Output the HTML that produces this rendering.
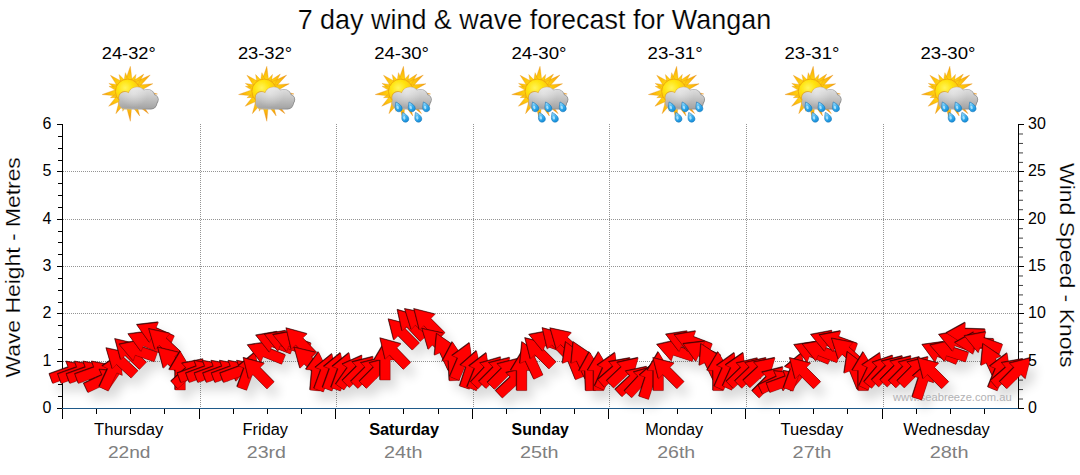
<!DOCTYPE html>
<html><head><meta charset="utf-8"><title>7 day wind &amp; wave forecast for Wangan</title>
<style>
html,body{margin:0;padding:0;background:#fff;}
body{width:1080px;height:475px;overflow:hidden;font-family:"Liberation Sans", sans-serif;}
svg{display:block;}
text{font-family:"Liberation Sans", sans-serif;}
.big{stroke:#fff;stroke-width:0.2px;}
</style></head><body>
<svg width="1080" height="475" viewBox="0 0 1080 475">
<defs>
<filter id="sh" x="-5%" y="-50%" width="110%" height="250%">
  <feGaussianBlur in="SourceAlpha" stdDeviation="5.5"/>
  <feOffset dx="6" dy="9" result="b"/>
  <feComponentTransfer><feFuncA type="linear" slope="0.15"/></feComponentTransfer>
</filter>
<path id="arwS" d="M19.3,0 L0.8,-11 L0.8,-5 L-19.3,-5 L-19.3,5 L0.8,5 L0.8,11 Z"/>
<path id="arwD" d="M19.3,0 L0.8,-11 L0.8,-5 L-19.3,-5 L-19.3,5 L0.8,5 L0.8,11 Z" fill="#300000" stroke="#300000" stroke-width="0.5"/>
<path id="arwR" d="M19.3,0 L0.8,-11 L0.8,-5 L-19.3,-5 L-19.3,5 L0.8,5 L0.8,11 Z" fill="#ff0000" stroke="#700000" stroke-width="0.35"/>

<radialGradient id="sung" cx="-2.5" cy="-3.5" r="17" gradientUnits="userSpaceOnUse"><stop offset="0" stop-color="#fff45a"/><stop offset="0.45" stop-color="#ffe30c"/><stop offset="0.78" stop-color="#fdc808"/><stop offset="1" stop-color="#f2a40c"/></radialGradient>
<radialGradient id="rayg" cx="0" cy="0" r="28" gradientUnits="userSpaceOnUse"><stop offset="0.4" stop-color="#ffd610"/><stop offset="0.7" stop-color="#fbb90e"/><stop offset="1" stop-color="#ef9216"/></radialGradient>
<linearGradient id="cldg" x1="0" y1="-4.5" x2="0" y2="17.5" gradientUnits="userSpaceOnUse"><stop offset="0" stop-color="#e4e4e4"/><stop offset="0.35" stop-color="#cfcfcf"/><stop offset="1" stop-color="#a2a2a2"/></linearGradient>
<radialGradient id="cldh" cx="6" cy="2" r="14" gradientUnits="userSpaceOnUse"><stop offset="0" stop-color="#ffffff" stop-opacity="0.35"/><stop offset="1" stop-color="#ffffff" stop-opacity="0"/></radialGradient>
<linearGradient id="rimg" x1="-8" y1="-4" x2="24" y2="18" gradientUnits="userSpaceOnUse"><stop offset="0" stop-color="#d99a1a"/><stop offset="0.32" stop-color="#e2b85a"/><stop offset="0.55" stop-color="#b4b4b4"/><stop offset="1" stop-color="#8a8a8a"/></linearGradient>
<linearGradient id="drpg" x1="-3" y1="-4" x2="3" y2="4" gradientUnits="userSpaceOnUse"><stop offset="0" stop-color="#a8e4ff"/><stop offset="0.5" stop-color="#38aeee"/><stop offset="1" stop-color="#1088d6"/></linearGradient>
<filter id="isoft" x="-10%" y="-10%" width="120%" height="120%"><feGaussianBlur stdDeviation="0.35"/></filter>
<g id="sun">
<path d="M4.72,-8.55 L2.63,-25.06 L-2.84,-9.35 Z M6.73,-6.73 L8.29,-16.99 L1.16,-9.45 Z M8.92,-3.99 L16.11,-17.28 L3.36,-9.17 Z M9.51,-2.22 L22.51,-16.36 L5.05,-8.36 Z M9.72,1.00 L25.10,-7.67 L7.50,-6.27 Z M8.63,4.57 L29.81,2.61 L9.30,-3.00 Z M6.85,6.61 L19.03,8.87 L9.47,0.99 Z M3.36,9.17 L20.77,22.27 L8.92,3.99 Z M0.53,9.75 L11.97,24.54 L7.36,6.42 Z M-3.00,9.30 L2.62,29.92 L4.57,8.63 Z M-5.19,7.98 L-4.95,19.87 L0.83,9.48 Z M-7.58,6.16 L-11.83,22.25 L-0.87,9.73 Z M-9.43,2.55 L-19.03,14.87 L-4.75,8.54 Z M-9.52,0.17 L-17.27,6.28 L-7.40,5.99 Z M-9.40,-2.67 L-25.64,3.15 L-8.47,4.87 Z M-7.89,-5.32 L-18.76,-5.03 L-9.50,0.66 Z M-7.07,-6.37 L-18.85,-8.00 L-9.50,-0.66 Z M-3.99,-8.92 L-17.28,-16.11 L-9.17,-3.36 Z M-1.32,-9.43 L-8.58,-16.84 L-6.85,-6.61 Z M1.98,-9.31 L-2.30,-18.76 L-4.17,-8.56 Z" fill="url(#rayg)" stroke="#e58f10" stroke-width="0.3" stroke-linejoin="round"/>
<circle cx="0" cy="0" r="12.3" fill="url(#sung)" stroke="#e89a10" stroke-width="0.7"/>
</g>
<clipPath id="cclip"><circle cx="-2.9" cy="6.2" r="5.7"/><circle cx="9.3" cy="4.6" r="8.8"/><circle cx="19.6" cy="5.6" r="7.3"/><circle cx="25.4" cy="8.2" r="4.8"/><rect x="-8.6" y="5.5" width="37.5" height="11.7" rx="5.6" ry="5.6"/></clipPath>
<g id="cloud">
<g fill="none" stroke="url(#rimg)" stroke-width="1.6"><circle cx="-2.9" cy="6.2" r="5.7"/><circle cx="9.3" cy="4.6" r="8.8"/><circle cx="19.6" cy="5.6" r="7.3"/><circle cx="25.4" cy="8.2" r="4.8"/><rect x="-8.6" y="5.5" width="37.5" height="11.7" rx="5.6" ry="5.6"/></g>
<rect x="-10" y="-6" width="42" height="25" fill="url(#cldg)" clip-path="url(#cclip)"/>
<rect x="-10" y="-6" width="42" height="25" fill="url(#cldh)" clip-path="url(#cclip)"/>
</g>
<g id="drop"><g transform="scale(1.12)"><path d="M-2.6,-4.3 C-0.6,-3.4 2.9,-1.2 3.0,1.4 C3.1,3.4 1.5,4.6 -0.3,4.4 C-2.3,4.2 -3.3,2.4 -3.2,0.4 C-3.1,-1.4 -2.8,-3.0 -2.6,-4.3 Z" fill="url(#drpg)" stroke="#0f6fb5" stroke-width="0.5"/><ellipse cx="-1.0" cy="0.6" rx="1.0" ry="1.6" fill="#c9efff" opacity="0.75" transform="rotate(-15 -1 0.6)"/></g></g>
<g id="pc" filter="url(#isoft)"><use href="#sun"/><use href="#cloud"/></g>
<g id="rain" filter="url(#isoft)"><use href="#sun"/><use href="#cloud"/><use href="#drop" x="-2" y="15.4"/><use href="#drop" x="11.1" y="15.4"/><use href="#drop" x="25.5" y="15.4"/><use href="#drop" x="4.6" y="25.8"/><use href="#drop" x="17.6" y="25.8"/></g>

</defs>
<rect x="0" y="0" width="1080" height="475" fill="#ffffff"/>
<text x="534.4" y="29.4" font-size="27.50" text-anchor="middle" fill="#000" textLength="473.5" lengthAdjust="spacingAndGlyphs" class="big">7 day wind &amp; wave forecast for Wangan</text>
<text x="128.8" y="58.7" font-size="16.00" text-anchor="middle" fill="#000" textLength="53.9" lengthAdjust="spacingAndGlyphs">24-32°</text>
<text x="265.0" y="58.7" font-size="16.00" text-anchor="middle" fill="#000" textLength="54.2" lengthAdjust="spacingAndGlyphs">23-32°</text>
<text x="401.6" y="58.7" font-size="16.00" text-anchor="middle" fill="#000" textLength="54.9" lengthAdjust="spacingAndGlyphs">24-30°</text>
<text x="539.0" y="58.7" font-size="16.00" text-anchor="middle" fill="#000" textLength="55.2" lengthAdjust="spacingAndGlyphs">24-30°</text>
<text x="675.1" y="58.7" font-size="16.00" text-anchor="middle" fill="#000" textLength="55.2" lengthAdjust="spacingAndGlyphs">23-31°</text>
<text x="812.0" y="58.7" font-size="16.00" text-anchor="middle" fill="#000" textLength="55.0" lengthAdjust="spacingAndGlyphs">23-31°</text>
<text x="948.0" y="58.7" font-size="16.00" text-anchor="middle" fill="#000" textLength="55.0" lengthAdjust="spacingAndGlyphs">23-30°</text>
<use href="#pc" x="127.7" y="91.4"/>
<use href="#pc" x="264.2" y="91.4"/>
<use href="#rain" x="400.8" y="91.4"/>
<use href="#rain" x="537.4" y="91.4"/>
<use href="#rain" x="674.0" y="91.4"/>
<use href="#rain" x="810.6" y="91.4"/>
<use href="#rain" x="947.2" y="91.4"/>
<g stroke="#949494" stroke-width="1" stroke-dasharray="1,1" shape-rendering="crispEdges" fill="none">
<line x1="63.0" y1="361.5" x2="1018.0" y2="361.5"/>
<line x1="63.0" y1="313.5" x2="1018.0" y2="313.5"/>
<line x1="63.0" y1="266.5" x2="1018.0" y2="266.5"/>
<line x1="63.0" y1="219.5" x2="1018.0" y2="219.5"/>
<line x1="63.0" y1="171.5" x2="1018.0" y2="171.5"/>
<line x1="200.5" y1="124.0" x2="200.5" y2="408.0"/>
<line x1="336.5" y1="124.0" x2="336.5" y2="408.0"/>
<line x1="473.5" y1="124.0" x2="473.5" y2="408.0"/>
<line x1="609.5" y1="124.0" x2="609.5" y2="408.0"/>
<line x1="746.5" y1="124.0" x2="746.5" y2="408.0"/>
<line x1="883.5" y1="124.0" x2="883.5" y2="408.0"/>
</g>
<g filter="url(#sh)" fill="#000">
<use href="#arwS" transform="translate(69.3 372.2) rotate(-20.0)"/>
<use href="#arwS" transform="translate(77.8 372.2) rotate(-20.0)"/>
<use href="#arwS" transform="translate(86.4 372.2) rotate(-20.0)"/>
<use href="#arwS" transform="translate(94.9 372.2) rotate(-20.0)"/>
<use href="#arwS" transform="translate(103.5 379.9) rotate(-25.0)"/>
<use href="#arwS" transform="translate(112.0 371.5) rotate(-65.0)"/>
<use href="#arwS" transform="translate(120.5 361.3) rotate(-137.0)"/>
<use href="#arwS" transform="translate(129.1 352.5) rotate(-136.0)"/>
<use href="#arwS" transform="translate(137.6 350.8) rotate(-161.0)"/>
<use href="#arwS" transform="translate(146.1 341.8) rotate(-157.0)"/>
<use href="#arwS" transform="translate(154.7 332.8) rotate(-156.0)"/>
<use href="#arwS" transform="translate(163.2 342.2) rotate(-137.0)"/>
<use href="#arwS" transform="translate(171.8 361.0) rotate(-135.6)"/>
<use href="#arwS" transform="translate(180.3 370.7) rotate(-90.0)"/>
<use href="#arwS" transform="translate(188.8 372.1) rotate(-42.0)"/>
<use href="#arwS" transform="translate(197.4 371.3) rotate(-20.0)"/>
<use href="#arwS" transform="translate(205.9 371.3) rotate(-20.0)"/>
<use href="#arwS" transform="translate(214.4 371.3) rotate(-20.0)"/>
<use href="#arwS" transform="translate(223.0 371.3) rotate(-20.0)"/>
<use href="#arwS" transform="translate(231.5 371.3) rotate(-20.0)"/>
<use href="#arwS" transform="translate(240.1 371.3) rotate(-20.0)"/>
<use href="#arwS" transform="translate(248.6 370.5) rotate(-70.0)"/>
<use href="#arwS" transform="translate(257.1 371.7) rotate(-134.5)"/>
<use href="#arwS" transform="translate(265.7 352.4) rotate(-158.0)"/>
<use href="#arwS" transform="translate(274.2 342.3) rotate(-159.0)"/>
<use href="#arwS" transform="translate(282.7 341.3) rotate(-159.0)"/>
<use href="#arwS" transform="translate(291.3 341.5) rotate(-160.0)"/>
<use href="#arwS" transform="translate(299.8 342.1) rotate(-134.0)"/>
<use href="#arwS" transform="translate(308.3 360.9) rotate(-136.0)"/>
<use href="#arwS" transform="translate(316.9 371.3) rotate(-85.0)"/>
<use href="#arwS" transform="translate(325.4 372.1) rotate(-70.0)"/>
<use href="#arwS" transform="translate(334.0 371.2) rotate(-70.0)"/>
<use href="#arwS" transform="translate(342.5 371.2) rotate(-70.0)"/>
<use href="#arwS" transform="translate(351.0 371.3) rotate(-55.0)"/>
<use href="#arwS" transform="translate(359.6 370.5) rotate(-45.0)"/>
<use href="#arwS" transform="translate(368.1 371.3) rotate(-45.0)"/>
<use href="#arwS" transform="translate(376.6 371.3) rotate(-45.0)"/>
<use href="#arwS" transform="translate(385.2 360.8) rotate(-90.0)"/>
<use href="#arwS" transform="translate(393.7 352.1) rotate(-134.0)"/>
<use href="#arwS" transform="translate(402.3 332.9) rotate(-135.0)"/>
<use href="#arwS" transform="translate(410.8 324.0) rotate(-133.0)"/>
<use href="#arwS" transform="translate(419.3 322.0) rotate(-138.0)"/>
<use href="#arwS" transform="translate(427.9 322.7) rotate(-135.0)"/>
<use href="#arwS" transform="translate(436.4 341.9) rotate(-137.0)"/>
<use href="#arwS" transform="translate(444.9 351.3) rotate(-115.0)"/>
<use href="#arwS" transform="translate(453.5 361.3) rotate(-93.0)"/>
<use href="#arwS" transform="translate(462.0 360.8) rotate(-67.0)"/>
<use href="#arwS" transform="translate(470.6 369.3) rotate(-72.0)"/>
<use href="#arwS" transform="translate(479.1 371.0) rotate(-68.0)"/>
<use href="#arwS" transform="translate(487.6 371.3) rotate(-47.0)"/>
<use href="#arwS" transform="translate(496.2 371.3) rotate(-45.0)"/>
<use href="#arwS" transform="translate(504.7 372.3) rotate(-45.0)"/>
<use href="#arwS" transform="translate(513.2 381.3) rotate(-43.0)"/>
<use href="#arwS" transform="translate(521.8 371.3) rotate(-90.0)"/>
<use href="#arwS" transform="translate(530.3 359.6) rotate(-115.0)"/>
<use href="#arwS" transform="translate(538.9 351.8) rotate(-135.0)"/>
<use href="#arwS" transform="translate(547.4 341.3) rotate(-160.0)"/>
<use href="#arwS" transform="translate(555.9 342.0) rotate(-134.0)"/>
<use href="#arwS" transform="translate(564.5 341.4) rotate(-137.0)"/>
<use href="#arwS" transform="translate(573.0 360.0) rotate(-112.0)"/>
<use href="#arwS" transform="translate(581.5 359.5) rotate(-115.0)"/>
<use href="#arwS" transform="translate(590.1 371.3) rotate(-92.0)"/>
<use href="#arwS" transform="translate(598.6 371.3) rotate(-90.0)"/>
<use href="#arwS" transform="translate(607.2 370.5) rotate(-66.0)"/>
<use href="#arwS" transform="translate(615.7 370.8) rotate(-41.0)"/>
<use href="#arwS" transform="translate(624.2 371.2) rotate(-43.5)"/>
<use href="#arwS" transform="translate(632.8 379.9) rotate(-43.0)"/>
<use href="#arwS" transform="translate(641.3 380.3) rotate(-47.0)"/>
<use href="#arwS" transform="translate(649.8 379.5) rotate(-72.0)"/>
<use href="#arwS" transform="translate(658.4 371.3) rotate(-90.0)"/>
<use href="#arwS" transform="translate(666.9 371.6) rotate(-135.0)"/>
<use href="#arwS" transform="translate(675.5 350.7) rotate(-162.0)"/>
<use href="#arwS" transform="translate(684.0 341.8) rotate(-158.0)"/>
<use href="#arwS" transform="translate(692.5 341.8) rotate(-159.0)"/>
<use href="#arwS" transform="translate(701.1 351.8) rotate(-156.0)"/>
<use href="#arwS" transform="translate(709.6 361.3) rotate(-116.0)"/>
<use href="#arwS" transform="translate(718.1 371.3) rotate(-90.0)"/>
<use href="#arwS" transform="translate(726.7 370.6) rotate(-66.5)"/>
<use href="#arwS" transform="translate(735.2 370.5) rotate(-65.5)"/>
<use href="#arwS" transform="translate(743.8 371.6) rotate(-44.0)"/>
<use href="#arwS" transform="translate(752.3 371.3) rotate(-44.0)"/>
<use href="#arwS" transform="translate(760.8 371.0) rotate(-42.6)"/>
<use href="#arwS" transform="translate(769.4 380.8) rotate(-45.0)"/>
<use href="#arwS" transform="translate(777.9 381.3) rotate(-25.0)"/>
<use href="#arwS" transform="translate(786.4 381.3) rotate(-20.0)"/>
<use href="#arwS" transform="translate(795.0 371.3) rotate(-70.0)"/>
<use href="#arwS" transform="translate(803.5 371.6) rotate(-135.0)"/>
<use href="#arwS" transform="translate(812.1 352.3) rotate(-157.5)"/>
<use href="#arwS" transform="translate(820.6 351.1) rotate(-159.0)"/>
<use href="#arwS" transform="translate(829.1 341.3) rotate(-160.0)"/>
<use href="#arwS" transform="translate(837.7 341.8) rotate(-160.0)"/>
<use href="#arwS" transform="translate(846.2 351.3) rotate(-138.0)"/>
<use href="#arwS" transform="translate(854.7 369.8) rotate(-112.0)"/>
<use href="#arwS" transform="translate(863.3 371.3) rotate(-90.0)"/>
<use href="#arwS" transform="translate(871.8 370.4) rotate(-65.0)"/>
<use href="#arwS" transform="translate(880.4 370.3) rotate(-50.0)"/>
<use href="#arwS" transform="translate(888.9 369.8) rotate(-45.0)"/>
<use href="#arwS" transform="translate(897.4 369.8) rotate(-45.0)"/>
<use href="#arwS" transform="translate(906.0 370.7) rotate(-45.0)"/>
<use href="#arwS" transform="translate(914.5 370.7) rotate(-45.0)"/>
<use href="#arwS" transform="translate(923.0 380.1) rotate(-72.0)"/>
<use href="#arwS" transform="translate(931.6 371.6) rotate(-135.0)"/>
<use href="#arwS" transform="translate(940.1 352.3) rotate(-157.0)"/>
<use href="#arwS" transform="translate(948.7 351.3) rotate(-162.0)"/>
<use href="#arwS" transform="translate(957.2 341.3) rotate(-160.0)"/>
<use href="#arwS" transform="translate(965.7 333.7) rotate(-178.0)"/>
<use href="#arwS" transform="translate(974.3 343.3) rotate(-178.0)"/>
<use href="#arwS" transform="translate(982.8 342.7) rotate(-160.0)"/>
<use href="#arwS" transform="translate(991.3 361.5) rotate(-115.0)"/>
<use href="#arwS" transform="translate(999.9 371.1) rotate(-68.0)"/>
<use href="#arwS" transform="translate(1008.4 371.7) rotate(-41.0)"/>
<use href="#arwS" transform="translate(1017.0 371.6) rotate(-45.0)"/>
</g>
<text x="893.0" y="401.0" font-size="11.0" fill="#b2b2b4" stroke="none" textLength="118.6" lengthAdjust="spacingAndGlyphs">www.seabreeze.com.au</text>
<g stroke="#000" stroke-width="1" shape-rendering="crispEdges" fill="none">
<line x1="62.5" y1="124.0" x2="62.5" y2="409.0"/>
<line x1="57.0" y1="408.5" x2="62.5" y2="408.5"/>
<line x1="58.0" y1="396.5" x2="62.5" y2="396.5"/>
<line x1="58.0" y1="384.5" x2="62.5" y2="384.5"/>
<line x1="58.0" y1="373.5" x2="62.5" y2="373.5"/>
<line x1="57.0" y1="361.5" x2="62.5" y2="361.5"/>
<line x1="58.0" y1="349.5" x2="62.5" y2="349.5"/>
<line x1="58.0" y1="337.5" x2="62.5" y2="337.5"/>
<line x1="58.0" y1="325.5" x2="62.5" y2="325.5"/>
<line x1="57.0" y1="313.5" x2="62.5" y2="313.5"/>
<line x1="58.0" y1="302.5" x2="62.5" y2="302.5"/>
<line x1="58.0" y1="290.5" x2="62.5" y2="290.5"/>
<line x1="58.0" y1="278.5" x2="62.5" y2="278.5"/>
<line x1="57.0" y1="266.5" x2="62.5" y2="266.5"/>
<line x1="58.0" y1="254.5" x2="62.5" y2="254.5"/>
<line x1="58.0" y1="242.5" x2="62.5" y2="242.5"/>
<line x1="58.0" y1="231.5" x2="62.5" y2="231.5"/>
<line x1="57.0" y1="219.5" x2="62.5" y2="219.5"/>
<line x1="58.0" y1="207.5" x2="62.5" y2="207.5"/>
<line x1="58.0" y1="195.5" x2="62.5" y2="195.5"/>
<line x1="58.0" y1="183.5" x2="62.5" y2="183.5"/>
<line x1="57.0" y1="171.5" x2="62.5" y2="171.5"/>
<line x1="58.0" y1="160.5" x2="62.5" y2="160.5"/>
<line x1="58.0" y1="148.5" x2="62.5" y2="148.5"/>
<line x1="58.0" y1="136.5" x2="62.5" y2="136.5"/>
<line x1="57.0" y1="124.5" x2="62.5" y2="124.5"/>
<line x1="1018.5" y1="124.0" x2="1018.5" y2="409.0"/>
<line x1="1018.5" y1="408.5" x2="1024.0" y2="408.5"/>
<line x1="1018.5" y1="361.5" x2="1024.0" y2="361.5"/>
<line x1="1018.5" y1="313.5" x2="1024.0" y2="313.5"/>
<line x1="1018.5" y1="266.5" x2="1024.0" y2="266.5"/>
<line x1="1018.5" y1="219.5" x2="1024.0" y2="219.5"/>
<line x1="1018.5" y1="171.5" x2="1024.0" y2="171.5"/>
<line x1="1018.5" y1="124.5" x2="1024.0" y2="124.5"/>
</g>
<g stroke="#000" stroke-width="1" fill="none" stroke-opacity="0.75">
<line x1="1019.0" y1="399.03" x2="1023.0" y2="399.03"/>
<line x1="1019.0" y1="389.57" x2="1023.0" y2="389.57"/>
<line x1="1019.0" y1="380.10" x2="1023.0" y2="380.10"/>
<line x1="1019.0" y1="370.64" x2="1023.0" y2="370.64"/>
<line x1="1019.0" y1="351.70" x2="1023.0" y2="351.70"/>
<line x1="1019.0" y1="342.24" x2="1023.0" y2="342.24"/>
<line x1="1019.0" y1="332.77" x2="1023.0" y2="332.77"/>
<line x1="1019.0" y1="323.31" x2="1023.0" y2="323.31"/>
<line x1="1019.0" y1="304.37" x2="1023.0" y2="304.37"/>
<line x1="1019.0" y1="294.91" x2="1023.0" y2="294.91"/>
<line x1="1019.0" y1="285.44" x2="1023.0" y2="285.44"/>
<line x1="1019.0" y1="275.98" x2="1023.0" y2="275.98"/>
<line x1="1019.0" y1="257.04" x2="1023.0" y2="257.04"/>
<line x1="1019.0" y1="247.58" x2="1023.0" y2="247.58"/>
<line x1="1019.0" y1="238.11" x2="1023.0" y2="238.11"/>
<line x1="1019.0" y1="228.65" x2="1023.0" y2="228.65"/>
<line x1="1019.0" y1="209.71" x2="1023.0" y2="209.71"/>
<line x1="1019.0" y1="200.25" x2="1023.0" y2="200.25"/>
<line x1="1019.0" y1="190.78" x2="1023.0" y2="190.78"/>
<line x1="1019.0" y1="181.32" x2="1023.0" y2="181.32"/>
<line x1="1019.0" y1="162.38" x2="1023.0" y2="162.38"/>
<line x1="1019.0" y1="152.92" x2="1023.0" y2="152.92"/>
<line x1="1019.0" y1="143.45" x2="1023.0" y2="143.45"/>
<line x1="1019.0" y1="133.99" x2="1023.0" y2="133.99"/>
</g>
<g stroke-width="1" shape-rendering="crispEdges" fill="none">
<line x1="62.0" y1="408.5" x2="1018.0" y2="408.5" stroke="#1f5a8a"/>
<line x1="62.5" y1="409.0" x2="62.5" y2="418.5" stroke="#000"/>
<line x1="96.5" y1="409.0" x2="96.5" y2="413.5" stroke="#000"/>
<line x1="130.5" y1="409.0" x2="130.5" y2="413.5" stroke="#000"/>
<line x1="164.5" y1="409.0" x2="164.5" y2="413.5" stroke="#000"/>
<line x1="199.5" y1="409.0" x2="199.5" y2="418.5" stroke="#000"/>
<line x1="233.5" y1="409.0" x2="233.5" y2="413.5" stroke="#000"/>
<line x1="267.5" y1="409.0" x2="267.5" y2="413.5" stroke="#000"/>
<line x1="301.5" y1="409.0" x2="301.5" y2="413.5" stroke="#000"/>
<line x1="335.5" y1="409.0" x2="335.5" y2="418.5" stroke="#000"/>
<line x1="369.5" y1="409.0" x2="369.5" y2="413.5" stroke="#000"/>
<line x1="403.5" y1="409.0" x2="403.5" y2="413.5" stroke="#000"/>
<line x1="438.5" y1="409.0" x2="438.5" y2="413.5" stroke="#000"/>
<line x1="472.5" y1="409.0" x2="472.5" y2="418.5" stroke="#000"/>
<line x1="506.5" y1="409.0" x2="506.5" y2="413.5" stroke="#000"/>
<line x1="540.5" y1="409.0" x2="540.5" y2="413.5" stroke="#000"/>
<line x1="574.5" y1="409.0" x2="574.5" y2="413.5" stroke="#000"/>
<line x1="608.5" y1="409.0" x2="608.5" y2="418.5" stroke="#000"/>
<line x1="643.5" y1="409.0" x2="643.5" y2="413.5" stroke="#000"/>
<line x1="677.5" y1="409.0" x2="677.5" y2="413.5" stroke="#000"/>
<line x1="711.5" y1="409.0" x2="711.5" y2="413.5" stroke="#000"/>
<line x1="745.5" y1="409.0" x2="745.5" y2="418.5" stroke="#000"/>
<line x1="779.5" y1="409.0" x2="779.5" y2="413.5" stroke="#000"/>
<line x1="813.5" y1="409.0" x2="813.5" y2="413.5" stroke="#000"/>
<line x1="847.5" y1="409.0" x2="847.5" y2="413.5" stroke="#000"/>
<line x1="882.5" y1="409.0" x2="882.5" y2="418.5" stroke="#000"/>
<line x1="916.5" y1="409.0" x2="916.5" y2="413.5" stroke="#000"/>
<line x1="950.5" y1="409.0" x2="950.5" y2="413.5" stroke="#000"/>
<line x1="984.5" y1="409.0" x2="984.5" y2="413.5" stroke="#000"/>
</g>
<g>
<use href="#arwD" transform="translate(68.8 371.6) rotate(-20.0)"/><use href="#arwR" transform="translate(69.3 372.2) rotate(-20.0)"/>
<use href="#arwD" transform="translate(77.3 371.6) rotate(-20.0)"/><use href="#arwR" transform="translate(77.8 372.2) rotate(-20.0)"/>
<use href="#arwD" transform="translate(85.8 371.6) rotate(-20.0)"/><use href="#arwR" transform="translate(86.4 372.2) rotate(-20.0)"/>
<use href="#arwD" transform="translate(94.4 371.6) rotate(-20.0)"/><use href="#arwR" transform="translate(94.9 372.2) rotate(-20.0)"/>
<use href="#arwD" transform="translate(102.9 379.4) rotate(-25.0)"/><use href="#arwR" transform="translate(103.5 379.9) rotate(-25.0)"/>
<use href="#arwD" transform="translate(111.4 370.9) rotate(-65.0)"/><use href="#arwR" transform="translate(112.0 371.5) rotate(-65.0)"/>
<use href="#arwD" transform="translate(120.0 360.8) rotate(-137.0)"/><use href="#arwR" transform="translate(120.5 361.3) rotate(-137.0)"/>
<use href="#arwD" transform="translate(128.5 351.9) rotate(-136.0)"/><use href="#arwR" transform="translate(129.1 352.5) rotate(-136.0)"/>
<use href="#arwD" transform="translate(137.1 350.2) rotate(-161.0)"/><use href="#arwR" transform="translate(137.6 350.8) rotate(-161.0)"/>
<use href="#arwD" transform="translate(145.6 341.2) rotate(-157.0)"/><use href="#arwR" transform="translate(146.1 341.8) rotate(-157.0)"/>
<use href="#arwD" transform="translate(154.1 332.2) rotate(-156.0)"/><use href="#arwR" transform="translate(154.7 332.8) rotate(-156.0)"/>
<use href="#arwD" transform="translate(162.7 341.6) rotate(-137.0)"/><use href="#arwR" transform="translate(163.2 342.2) rotate(-137.0)"/>
<use href="#arwD" transform="translate(171.2 360.4) rotate(-135.6)"/><use href="#arwR" transform="translate(171.8 361.0) rotate(-135.6)"/>
<use href="#arwD" transform="translate(179.7 370.1) rotate(-90.0)"/><use href="#arwR" transform="translate(180.3 370.7) rotate(-90.0)"/>
<use href="#arwD" transform="translate(188.3 371.6) rotate(-42.0)"/><use href="#arwR" transform="translate(188.8 372.1) rotate(-42.0)"/>
<use href="#arwD" transform="translate(196.8 370.8) rotate(-20.0)"/><use href="#arwR" transform="translate(197.4 371.3) rotate(-20.0)"/>
<use href="#arwD" transform="translate(205.3 370.8) rotate(-20.0)"/><use href="#arwR" transform="translate(205.9 371.3) rotate(-20.0)"/>
<use href="#arwD" transform="translate(213.9 370.8) rotate(-20.0)"/><use href="#arwR" transform="translate(214.4 371.3) rotate(-20.0)"/>
<use href="#arwD" transform="translate(222.4 370.8) rotate(-20.0)"/><use href="#arwR" transform="translate(223.0 371.3) rotate(-20.0)"/>
<use href="#arwD" transform="translate(231.0 370.8) rotate(-20.0)"/><use href="#arwR" transform="translate(231.5 371.3) rotate(-20.0)"/>
<use href="#arwD" transform="translate(239.5 370.8) rotate(-20.0)"/><use href="#arwR" transform="translate(240.1 371.3) rotate(-20.0)"/>
<use href="#arwD" transform="translate(248.0 369.9) rotate(-70.0)"/><use href="#arwR" transform="translate(248.6 370.5) rotate(-70.0)"/>
<use href="#arwD" transform="translate(256.6 371.1) rotate(-134.5)"/><use href="#arwR" transform="translate(257.1 371.7) rotate(-134.5)"/>
<use href="#arwD" transform="translate(265.1 351.9) rotate(-158.0)"/><use href="#arwR" transform="translate(265.7 352.4) rotate(-158.0)"/>
<use href="#arwD" transform="translate(273.6 341.8) rotate(-159.0)"/><use href="#arwR" transform="translate(274.2 342.3) rotate(-159.0)"/>
<use href="#arwD" transform="translate(282.2 340.8) rotate(-159.0)"/><use href="#arwR" transform="translate(282.7 341.3) rotate(-159.0)"/>
<use href="#arwD" transform="translate(290.7 340.9) rotate(-160.0)"/><use href="#arwR" transform="translate(291.3 341.5) rotate(-160.0)"/>
<use href="#arwD" transform="translate(299.3 341.6) rotate(-134.0)"/><use href="#arwR" transform="translate(299.8 342.1) rotate(-134.0)"/>
<use href="#arwD" transform="translate(307.8 360.4) rotate(-136.0)"/><use href="#arwR" transform="translate(308.3 360.9) rotate(-136.0)"/>
<use href="#arwD" transform="translate(316.3 370.8) rotate(-85.0)"/><use href="#arwR" transform="translate(316.9 371.3) rotate(-85.0)"/>
<use href="#arwD" transform="translate(324.9 371.6) rotate(-70.0)"/><use href="#arwR" transform="translate(325.4 372.1) rotate(-70.0)"/>
<use href="#arwD" transform="translate(333.4 370.6) rotate(-70.0)"/><use href="#arwR" transform="translate(334.0 371.2) rotate(-70.0)"/>
<use href="#arwD" transform="translate(341.9 370.6) rotate(-70.0)"/><use href="#arwR" transform="translate(342.5 371.2) rotate(-70.0)"/>
<use href="#arwD" transform="translate(350.5 370.8) rotate(-55.0)"/><use href="#arwR" transform="translate(351.0 371.3) rotate(-55.0)"/>
<use href="#arwD" transform="translate(359.0 369.9) rotate(-45.0)"/><use href="#arwR" transform="translate(359.6 370.5) rotate(-45.0)"/>
<use href="#arwD" transform="translate(367.6 370.8) rotate(-45.0)"/><use href="#arwR" transform="translate(368.1 371.3) rotate(-45.0)"/>
<use href="#arwD" transform="translate(376.1 370.8) rotate(-45.0)"/><use href="#arwR" transform="translate(376.6 371.3) rotate(-45.0)"/>
<use href="#arwD" transform="translate(384.6 360.2) rotate(-90.0)"/><use href="#arwR" transform="translate(385.2 360.8) rotate(-90.0)"/>
<use href="#arwD" transform="translate(393.2 351.6) rotate(-134.0)"/><use href="#arwR" transform="translate(393.7 352.1) rotate(-134.0)"/>
<use href="#arwD" transform="translate(401.7 332.4) rotate(-135.0)"/><use href="#arwR" transform="translate(402.3 332.9) rotate(-135.0)"/>
<use href="#arwD" transform="translate(410.2 323.4) rotate(-133.0)"/><use href="#arwR" transform="translate(410.8 324.0) rotate(-133.0)"/>
<use href="#arwD" transform="translate(418.8 321.4) rotate(-138.0)"/><use href="#arwR" transform="translate(419.3 322.0) rotate(-138.0)"/>
<use href="#arwD" transform="translate(427.3 322.1) rotate(-135.0)"/><use href="#arwR" transform="translate(427.9 322.7) rotate(-135.0)"/>
<use href="#arwD" transform="translate(435.9 341.4) rotate(-137.0)"/><use href="#arwR" transform="translate(436.4 341.9) rotate(-137.0)"/>
<use href="#arwD" transform="translate(444.4 350.8) rotate(-115.0)"/><use href="#arwR" transform="translate(444.9 351.3) rotate(-115.0)"/>
<use href="#arwD" transform="translate(452.9 360.8) rotate(-93.0)"/><use href="#arwR" transform="translate(453.5 361.3) rotate(-93.0)"/>
<use href="#arwD" transform="translate(461.5 360.2) rotate(-67.0)"/><use href="#arwR" transform="translate(462.0 360.8) rotate(-67.0)"/>
<use href="#arwD" transform="translate(470.0 368.8) rotate(-72.0)"/><use href="#arwR" transform="translate(470.6 369.3) rotate(-72.0)"/>
<use href="#arwD" transform="translate(478.5 370.4) rotate(-68.0)"/><use href="#arwR" transform="translate(479.1 371.0) rotate(-68.0)"/>
<use href="#arwD" transform="translate(487.1 370.8) rotate(-47.0)"/><use href="#arwR" transform="translate(487.6 371.3) rotate(-47.0)"/>
<use href="#arwD" transform="translate(495.6 370.8) rotate(-45.0)"/><use href="#arwR" transform="translate(496.2 371.3) rotate(-45.0)"/>
<use href="#arwD" transform="translate(504.2 371.8) rotate(-45.0)"/><use href="#arwR" transform="translate(504.7 372.3) rotate(-45.0)"/>
<use href="#arwD" transform="translate(512.7 380.8) rotate(-43.0)"/><use href="#arwR" transform="translate(513.2 381.3) rotate(-43.0)"/>
<use href="#arwD" transform="translate(521.2 370.8) rotate(-90.0)"/><use href="#arwR" transform="translate(521.8 371.3) rotate(-90.0)"/>
<use href="#arwD" transform="translate(529.8 359.1) rotate(-115.0)"/><use href="#arwR" transform="translate(530.3 359.6) rotate(-115.0)"/>
<use href="#arwD" transform="translate(538.3 351.2) rotate(-135.0)"/><use href="#arwR" transform="translate(538.9 351.8) rotate(-135.0)"/>
<use href="#arwD" transform="translate(546.8 340.8) rotate(-160.0)"/><use href="#arwR" transform="translate(547.4 341.3) rotate(-160.0)"/>
<use href="#arwD" transform="translate(555.4 341.4) rotate(-134.0)"/><use href="#arwR" transform="translate(555.9 342.0) rotate(-134.0)"/>
<use href="#arwD" transform="translate(563.9 340.9) rotate(-137.0)"/><use href="#arwR" transform="translate(564.5 341.4) rotate(-137.0)"/>
<use href="#arwD" transform="translate(572.5 359.4) rotate(-112.0)"/><use href="#arwR" transform="translate(573.0 360.0) rotate(-112.0)"/>
<use href="#arwD" transform="translate(581.0 358.9) rotate(-115.0)"/><use href="#arwR" transform="translate(581.5 359.5) rotate(-115.0)"/>
<use href="#arwD" transform="translate(589.5 370.8) rotate(-92.0)"/><use href="#arwR" transform="translate(590.1 371.3) rotate(-92.0)"/>
<use href="#arwD" transform="translate(598.1 370.8) rotate(-90.0)"/><use href="#arwR" transform="translate(598.6 371.3) rotate(-90.0)"/>
<use href="#arwD" transform="translate(606.6 369.9) rotate(-66.0)"/><use href="#arwR" transform="translate(607.2 370.5) rotate(-66.0)"/>
<use href="#arwD" transform="translate(615.1 370.2) rotate(-41.0)"/><use href="#arwR" transform="translate(615.7 370.8) rotate(-41.0)"/>
<use href="#arwD" transform="translate(623.7 370.6) rotate(-43.5)"/><use href="#arwR" transform="translate(624.2 371.2) rotate(-43.5)"/>
<use href="#arwD" transform="translate(632.2 379.4) rotate(-43.0)"/><use href="#arwR" transform="translate(632.8 379.9) rotate(-43.0)"/>
<use href="#arwD" transform="translate(640.8 379.8) rotate(-47.0)"/><use href="#arwR" transform="translate(641.3 380.3) rotate(-47.0)"/>
<use href="#arwD" transform="translate(649.3 378.9) rotate(-72.0)"/><use href="#arwR" transform="translate(649.8 379.5) rotate(-72.0)"/>
<use href="#arwD" transform="translate(657.8 370.8) rotate(-90.0)"/><use href="#arwR" transform="translate(658.4 371.3) rotate(-90.0)"/>
<use href="#arwD" transform="translate(666.4 371.1) rotate(-135.0)"/><use href="#arwR" transform="translate(666.9 371.6) rotate(-135.0)"/>
<use href="#arwD" transform="translate(674.9 350.1) rotate(-162.0)"/><use href="#arwR" transform="translate(675.5 350.7) rotate(-162.0)"/>
<use href="#arwD" transform="translate(683.4 341.2) rotate(-158.0)"/><use href="#arwR" transform="translate(684.0 341.8) rotate(-158.0)"/>
<use href="#arwD" transform="translate(692.0 341.2) rotate(-159.0)"/><use href="#arwR" transform="translate(692.5 341.8) rotate(-159.0)"/>
<use href="#arwD" transform="translate(700.5 351.2) rotate(-156.0)"/><use href="#arwR" transform="translate(701.1 351.8) rotate(-156.0)"/>
<use href="#arwD" transform="translate(709.1 360.8) rotate(-116.0)"/><use href="#arwR" transform="translate(709.6 361.3) rotate(-116.0)"/>
<use href="#arwD" transform="translate(717.6 370.8) rotate(-90.0)"/><use href="#arwR" transform="translate(718.1 371.3) rotate(-90.0)"/>
<use href="#arwD" transform="translate(726.1 370.1) rotate(-66.5)"/><use href="#arwR" transform="translate(726.7 370.6) rotate(-66.5)"/>
<use href="#arwD" transform="translate(734.7 369.9) rotate(-65.5)"/><use href="#arwR" transform="translate(735.2 370.5) rotate(-65.5)"/>
<use href="#arwD" transform="translate(743.2 371.1) rotate(-44.0)"/><use href="#arwR" transform="translate(743.8 371.6) rotate(-44.0)"/>
<use href="#arwD" transform="translate(751.8 370.8) rotate(-44.0)"/><use href="#arwR" transform="translate(752.3 371.3) rotate(-44.0)"/>
<use href="#arwD" transform="translate(760.3 370.4) rotate(-42.6)"/><use href="#arwR" transform="translate(760.8 371.0) rotate(-42.6)"/>
<use href="#arwD" transform="translate(768.8 380.2) rotate(-45.0)"/><use href="#arwR" transform="translate(769.4 380.8) rotate(-45.0)"/>
<use href="#arwD" transform="translate(777.4 380.8) rotate(-25.0)"/><use href="#arwR" transform="translate(777.9 381.3) rotate(-25.0)"/>
<use href="#arwD" transform="translate(785.9 380.8) rotate(-20.0)"/><use href="#arwR" transform="translate(786.4 381.3) rotate(-20.0)"/>
<use href="#arwD" transform="translate(794.4 370.8) rotate(-70.0)"/><use href="#arwR" transform="translate(795.0 371.3) rotate(-70.0)"/>
<use href="#arwD" transform="translate(803.0 371.1) rotate(-135.0)"/><use href="#arwR" transform="translate(803.5 371.6) rotate(-135.0)"/>
<use href="#arwD" transform="translate(811.5 351.8) rotate(-157.5)"/><use href="#arwR" transform="translate(812.1 352.3) rotate(-157.5)"/>
<use href="#arwD" transform="translate(820.0 350.6) rotate(-159.0)"/><use href="#arwR" transform="translate(820.6 351.1) rotate(-159.0)"/>
<use href="#arwD" transform="translate(828.6 340.8) rotate(-160.0)"/><use href="#arwR" transform="translate(829.1 341.3) rotate(-160.0)"/>
<use href="#arwD" transform="translate(837.1 341.2) rotate(-160.0)"/><use href="#arwR" transform="translate(837.7 341.8) rotate(-160.0)"/>
<use href="#arwD" transform="translate(845.7 350.8) rotate(-138.0)"/><use href="#arwR" transform="translate(846.2 351.3) rotate(-138.0)"/>
<use href="#arwD" transform="translate(854.2 369.2) rotate(-112.0)"/><use href="#arwR" transform="translate(854.7 369.8) rotate(-112.0)"/>
<use href="#arwD" transform="translate(862.7 370.8) rotate(-90.0)"/><use href="#arwR" transform="translate(863.3 371.3) rotate(-90.0)"/>
<use href="#arwD" transform="translate(871.3 369.9) rotate(-65.0)"/><use href="#arwR" transform="translate(871.8 370.4) rotate(-65.0)"/>
<use href="#arwD" transform="translate(879.8 369.8) rotate(-50.0)"/><use href="#arwR" transform="translate(880.4 370.3) rotate(-50.0)"/>
<use href="#arwD" transform="translate(888.3 369.2) rotate(-45.0)"/><use href="#arwR" transform="translate(888.9 369.8) rotate(-45.0)"/>
<use href="#arwD" transform="translate(896.9 369.2) rotate(-45.0)"/><use href="#arwR" transform="translate(897.4 369.8) rotate(-45.0)"/>
<use href="#arwD" transform="translate(905.4 370.1) rotate(-45.0)"/><use href="#arwR" transform="translate(906.0 370.7) rotate(-45.0)"/>
<use href="#arwD" transform="translate(914.0 370.1) rotate(-45.0)"/><use href="#arwR" transform="translate(914.5 370.7) rotate(-45.0)"/>
<use href="#arwD" transform="translate(922.5 379.6) rotate(-72.0)"/><use href="#arwR" transform="translate(923.0 380.1) rotate(-72.0)"/>
<use href="#arwD" transform="translate(931.0 371.1) rotate(-135.0)"/><use href="#arwR" transform="translate(931.6 371.6) rotate(-135.0)"/>
<use href="#arwD" transform="translate(939.6 351.8) rotate(-157.0)"/><use href="#arwR" transform="translate(940.1 352.3) rotate(-157.0)"/>
<use href="#arwD" transform="translate(948.1 350.8) rotate(-162.0)"/><use href="#arwR" transform="translate(948.7 351.3) rotate(-162.0)"/>
<use href="#arwD" transform="translate(956.6 340.8) rotate(-160.0)"/><use href="#arwR" transform="translate(957.2 341.3) rotate(-160.0)"/>
<use href="#arwD" transform="translate(965.2 333.1) rotate(-178.0)"/><use href="#arwR" transform="translate(965.7 333.7) rotate(-178.0)"/>
<use href="#arwD" transform="translate(973.7 342.8) rotate(-178.0)"/><use href="#arwR" transform="translate(974.3 343.3) rotate(-178.0)"/>
<use href="#arwD" transform="translate(982.3 342.1) rotate(-160.0)"/><use href="#arwR" transform="translate(982.8 342.7) rotate(-160.0)"/>
<use href="#arwD" transform="translate(990.8 360.9) rotate(-115.0)"/><use href="#arwR" transform="translate(991.3 361.5) rotate(-115.0)"/>
<use href="#arwD" transform="translate(999.3 370.6) rotate(-68.0)"/><use href="#arwR" transform="translate(999.9 371.1) rotate(-68.0)"/>
<use href="#arwD" transform="translate(1007.9 371.1) rotate(-41.0)"/><use href="#arwR" transform="translate(1008.4 371.7) rotate(-41.0)"/>
<use href="#arwD" transform="translate(1016.4 371.1) rotate(-45.0)"/><use href="#arwR" transform="translate(1017.0 371.6) rotate(-45.0)"/>
</g>
<text x="51.3" y="413.0" font-size="16.0" text-anchor="end" fill="#000">0</text>
<text x="51.3" y="366.0" font-size="16.0" text-anchor="end" fill="#000">1</text>
<text x="51.3" y="318.0" font-size="16.0" text-anchor="end" fill="#000">2</text>
<text x="51.3" y="271.0" font-size="16.0" text-anchor="end" fill="#000">3</text>
<text x="51.3" y="224.0" font-size="16.0" text-anchor="end" fill="#000">4</text>
<text x="51.3" y="176.0" font-size="16.0" text-anchor="end" fill="#000">5</text>
<text x="51.3" y="129.0" font-size="16.0" text-anchor="end" fill="#000">6</text>
<text x="1028.0" y="413.0" font-size="16.0" text-anchor="start" fill="#000">0</text>
<text x="1028.0" y="366.0" font-size="16.0" text-anchor="start" fill="#000">5</text>
<text x="1028.0" y="318.0" font-size="16.0" text-anchor="start" fill="#000">10</text>
<text x="1028.0" y="271.0" font-size="16.0" text-anchor="start" fill="#000">15</text>
<text x="1028.0" y="224.0" font-size="16.0" text-anchor="start" fill="#000">20</text>
<text x="1028.0" y="176.0" font-size="16.0" text-anchor="start" fill="#000">25</text>
<text x="1028.0" y="129.0" font-size="16.0" text-anchor="start" fill="#000">30</text>
<text transform="translate(19.7 267.4) rotate(-90)" font-size="21.00" text-anchor="middle" fill="#000" textLength="220.4" lengthAdjust="spacingAndGlyphs" class="big">Wave Height - Metres</text>
<text transform="translate(1060.0 265.2) rotate(90)" font-size="21.00" text-anchor="middle" fill="#000" textLength="204.5" lengthAdjust="spacingAndGlyphs" class="big">Wind Speed - Knots</text>
<text x="128.7" y="434.7" font-size="16.00" text-anchor="middle" fill="#000" textLength="69.3" lengthAdjust="spacingAndGlyphs">Thursday</text>
<text x="129.2" y="457.7" font-size="16.50" text-anchor="middle" fill="#808080" textLength="42.6" lengthAdjust="spacingAndGlyphs">22nd</text>
<text x="265.3" y="434.7" font-size="16.00" text-anchor="middle" fill="#000" textLength="45.4" lengthAdjust="spacingAndGlyphs">Friday</text>
<text x="266.4" y="457.7" font-size="16.50" text-anchor="middle" fill="#808080" textLength="39.2" lengthAdjust="spacingAndGlyphs">23rd</text>
<text x="404.1" y="434.7" font-size="16.00" text-anchor="middle" fill="#000" font-weight="bold" textLength="69.9" lengthAdjust="spacingAndGlyphs">Saturday</text>
<text x="403.2" y="457.7" font-size="16.50" text-anchor="middle" fill="#808080" textLength="38.5" lengthAdjust="spacingAndGlyphs">24th</text>
<text x="540.2" y="434.7" font-size="16.00" text-anchor="middle" fill="#000" font-weight="bold" textLength="57.2" lengthAdjust="spacingAndGlyphs">Sunday</text>
<text x="539.2" y="457.7" font-size="16.50" text-anchor="middle" fill="#808080" textLength="38.5" lengthAdjust="spacingAndGlyphs">25th</text>
<text x="674.2" y="434.7" font-size="16.00" text-anchor="middle" fill="#000" textLength="57.8" lengthAdjust="spacingAndGlyphs">Monday</text>
<text x="676.2" y="457.7" font-size="16.50" text-anchor="middle" fill="#808080" textLength="38.0" lengthAdjust="spacingAndGlyphs">26th</text>
<text x="811.9" y="434.7" font-size="16.00" text-anchor="middle" fill="#000" textLength="62.6" lengthAdjust="spacingAndGlyphs">Tuesday</text>
<text x="812.0" y="457.7" font-size="16.50" text-anchor="middle" fill="#808080" textLength="38.8" lengthAdjust="spacingAndGlyphs">27th</text>
<text x="946.5" y="434.7" font-size="16.00" text-anchor="middle" fill="#000" textLength="86.5" lengthAdjust="spacingAndGlyphs">Wednesday</text>
<text x="949.1" y="457.7" font-size="16.50" text-anchor="middle" fill="#808080" textLength="38.8" lengthAdjust="spacingAndGlyphs">28th</text>
</svg>
</body></html>
